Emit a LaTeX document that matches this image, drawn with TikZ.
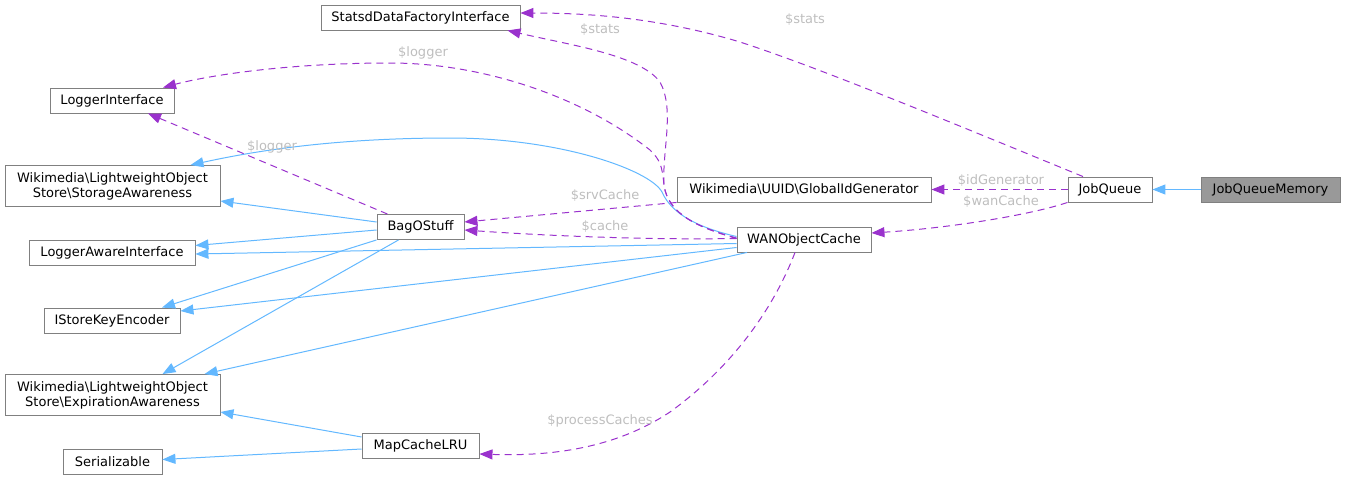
\documentclass[tikz,border=0pt]{standalone}
\usepackage{fontspec}
\setmainfont{DejaVu Sans}
\usetikzlibrary{arrows.meta}

\definecolor{inheritblue}{HTML}{63B8FF}
\definecolor{memberpurple}{HTML}{9A32CD}
\definecolor{boxgray}{HTML}{808080}
\definecolor{labelgray}{HTML}{BEBEBE}
\definecolor{selgray}{HTML}{999999}

\begin{document}
\begin{tikzpicture}[x=1pt, y=-1pt,
    box/.style={draw=boxgray, line width=0.9pt, fill=white, inner sep=0pt, minimum height=25pt, font=\fontsize{13}{15}\selectfont},
    twobox/.style={box, minimum height=41pt, align=center},
    selbox/.style={box, fill=selgray},
    inherit/.style={draw=inheritblue, line width=1pt, -{Triangle[length=13pt,width=10pt]}},
    member/.style={draw=memberpurple, line width=1pt, dash pattern=on 7pt off 5pt, -{Triangle[length=13pt,width=10pt]}},
    lbl/.style={text=labelgray, inner sep=0pt, font=\fontsize{13}{15}\selectfont}]

\useasboundingbox (0,0) rectangle (1345,480);

% left column
\node[box, minimum width=199pt] (statsd) at (420.5,17.5) {StatsdDataFactoryInterface};
\node[box, minimum width=124pt] (logger) at (112,100.5) {LoggerInterface};
\node[twobox, minimum width=215pt] (storage) at (112.5,186) {Wikimedia\textbackslash{}LightweightObject\\Store\textbackslash{}StorageAwareness};
\node[box, minimum width=166pt] (loggeraware) at (112,252.5) {LoggerAwareInterface};
\node[box, minimum width=136pt] (keyenc) at (112,320.5) {IStoreKeyEncoder};
\node[twobox, minimum width=215pt] (expiration) at (112.5,395) {Wikimedia\textbackslash{}LightweightObject\\Store\textbackslash{}ExpirationAwareness};
\node[box, minimum width=99pt] (serial) at (112.5,461.5) {Serializable};

% middle
\node[box, minimum width=87pt] (bag) at (420.5,227) {BagOStuff};
\node[box, minimum width=117pt] (lru) at (420.5,446) {MapCacheLRU};
\node[box, minimum width=254pt] (gid) at (804,189.5) {Wikimedia\textbackslash{}UUID\textbackslash{}GlobalIdGenerator};
\node[box, minimum width=134pt] (wan) at (804,239.5) {WANObjectCache};

% right
\node[box, minimum width=84pt] (jq) at (1110,189.5) {JobQueue};
\node[selbox, minimum width=139pt] (jqm) at (1270.5,189.5) {JobQueueMemory};

% inheritance
\draw[inherit] (jqm.west) -- (jq.east);
\draw[inherit] ([yshift=5pt]bag.west) -- ([yshift=-15pt]storage.east);
\draw[inherit] ([yshift=-3pt]bag.west) -- ([yshift=7pt]loggeraware.east);
\draw[inherit] (bag.south west) -- ([xshift=50pt]keyenc.north);
\draw[inherit] ([xshift=-22pt]bag.south) -- ([xshift=50pt]expiration.north);
\draw[inherit] ([yshift=3pt]wan.west) .. controls (700,228) and (672,215) .. (662,192)
    .. controls (650,170) and (560,138) .. (450,138)
    .. controls (330,138) and (250,152) .. ([xshift=78pt]storage.north);
\draw[inherit] ([yshift=-4pt]wan.west) -- ([yshift=-1.5pt]loggeraware.east);
\draw[inherit] ([yshift=-8pt]wan.west) -- ([yshift=9.5pt]keyenc.east);
\draw[inherit] ([xshift=-57pt]wan.south) -- ([xshift=92pt]expiration.north);
\draw[inherit] ([yshift=9pt]lru.west) -- ([yshift=-17pt]expiration.east);
\draw[inherit] ([yshift=-3pt]lru.west) -- ([yshift=2pt]serial.east);

% members
\draw[member] ([xshift=-27pt]jq.north) .. controls (950,122) and (820,68) .. (740,42)
    .. controls (660,18) and (590,13) .. ([yshift=4.5pt]statsd.east);
\draw[member] (jq.west) -- (gid.east);
\draw[member] (jq.south west) .. controls (1030,215) and (950,228) .. ([yshift=6.5pt]wan.east);
\draw[member] ([yshift=1.5pt]wan.west) .. controls (700,228) and (668,215) .. (664,185)
    .. controls (662,150) and (675,110) .. (660,82)
    .. controls (640,55) and (570,45) .. ([xshift=87pt]statsd.south);
\draw[member] ([yshift=1pt]wan.west) .. controls (700,228) and (668,215) .. (664,185)
    .. controls (662,165) and (660,160) .. (650,150)
    .. controls (580,95) and (480,63) .. (390,63)
    .. controls (290,63) and (210,75) .. ([xshift=51pt]logger.north);
\draw[member] ([yshift=1pt]wan.west) .. controls (650,240) and (550,236) .. ([yshift=-3pt]bag.east);
\draw[member] (gid.south west) -- ([yshift=5pt]bag.east);
\draw[member] ([xshift=-33pt]bag.north) -- ([xshift=36pt]logger.south);
\draw[member] ([xshift=-9pt]wan.south) .. controls (775,305) and (735,365) .. (670,412)
    .. controls (610,452) and (540,456) .. ([yshift=-8pt]lru.east);

% labels
\node[lbl] (lstatsjq) at (805,20) {\$stats};
\node[lbl] (lidgen) at (1001,181) {\$idGenerator};
\node[lbl] (lwancache) at (1001,202) {\$wanCache};
\node[lbl] (lstatswan) at (600,30) {\$stats};
\node[lbl] (lloggerwan) at (423,53) {\$logger};
\node[lbl] (lsrvcache) at (605,196) {\$srvCache};
\node[lbl] (lcache) at (605,227) {\$cache};
\node[lbl] (lloggerbag) at (272,147) {\$logger};
\node[lbl] (lprocess) at (600,421) {\$processCaches};

\end{tikzpicture}
\end{document}
